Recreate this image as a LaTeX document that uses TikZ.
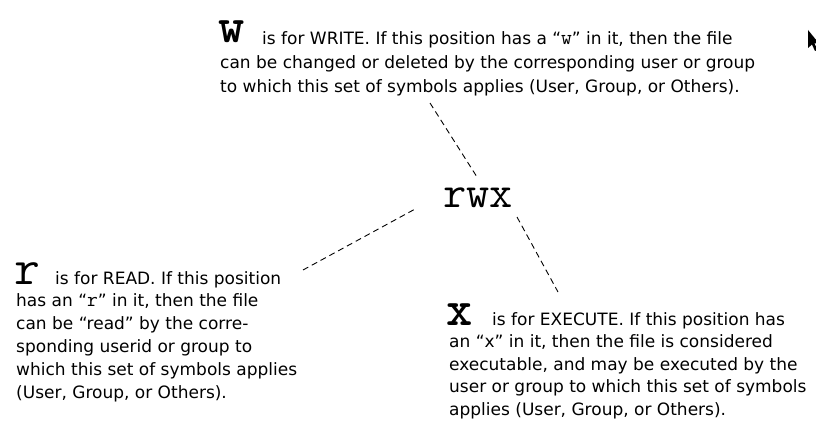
\documentclass[tikz,border=0pt]{standalone}
\usepackage{fontspec}
\setmainfont{DejaVu Sans}
\newcommand{\qletter}[1]{{\fontsize{21}{20}\selectfont\ttfamily #1}}
\begin{document}
\begin{tikzpicture}[x=1pt,y=-1pt,
  txt/.style={anchor=base west, inner sep=0pt, font=\fontsize{17}{20}\selectfont},
  bigletter/.style={anchor=base west, inner sep=0pt, font=\fontsize{50}{50}\selectfont\ttfamily},
  boldletter/.style={bigletter, font=\fontsize{50}{50}\selectfont\ttfamily\bfseries},
  dashline/.style={draw=black, line width=0.9pt, dash pattern=on 6pt off 4pt}]
\useasboundingbox (0,0) rectangle (816,433);
% w block
\node[boldletter] (wl) at (218,43) {w};
\node[txt] (w1) at (262,45) {is for WRITE. If this position has a “\qletter{w}” in it, then the file};
\node[txt] (w2) at (220,69) {can be changed or deleted by the corresponding user or group};
\node[txt] (w3) at (220,93) {to which this set of symbols applies (User, Group, or Others).};
% rwx
\node[anchor=base, inner sep=0pt, font=\fontsize{45}{45}\selectfont\ttfamily] (rwx) at (478,207) {rwx};
% r block
\node[bigletter] (rl) at (14,284) {r};
\node[txt] (r1) at (55,284) {is for READ. If this position};
\node[txt] (r2) at (16,306) {has an “\qletter{r}” in it, then the file};
\node[txt] (r3) at (16,329) {can be “read” by the corre-};
\node[txt] (r4) at (16,352) {sponding userid or group to};
\node[txt] (r5) at (16,375) {which this set of symbols applies};
\node[txt] (r6) at (16,398) {(User, Group, or Others).};
% x block
\node[boldletter] (xl) at (446,325) {x};
\node[txt] (x1) at (492,325) {is for EXECUTE. If this position has};
\node[txt] (x2) at (449,347) {an “x” in it, then the file is considered};
\node[txt] (x3) at (449,370) {executable, and may be executed by the};
\node[txt] (x4) at (449,392) {user or group to which this set of symbols};
\node[txt] (x5) at (449,415) {applies (User, Group, or Others).};
% connectors
\coordinate (wtail) at (430,103);
\coordinate (rwxN) at (477,177);
\coordinate (rtail) at (303,270);
\coordinate (rwxW) at (417,208);
\coordinate (rwxSE) at (517,217);
\coordinate (xtail) at (558,292);
\draw[dashline] (wtail) -- (rwxN);
\draw[dashline] (rtail) -- (rwxW);
\draw[dashline] (rwxSE) -- (xtail);
% mouse pointer
\fill[black] (808,30) -- (808,48) -- (812,44.5) -- (815,51) -- (817.5,50) -- (814.5,43.5) -- (819,43.5) -- cycle;
\end{tikzpicture}
\end{document}
